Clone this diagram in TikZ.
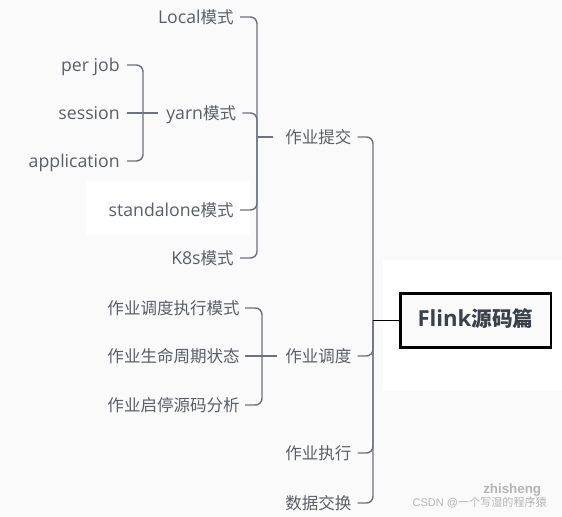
\documentclass[tikz,border=0pt]{standalone}
\usepackage{fontspec}
\setmainfont{Open Sans}[Scale=1.07]
\newfontfamily\cjk{Noto Sans CJK SC}
\newfontfamily\cjkb{Noto Sans CJK SC Bold}
\newfontfamily\wmlat{Liberation Sans}
\usetikzlibrary{calc}
\definecolor{txt}{HTML}{5A5F67}
\definecolor{ln}{HTML}{6E737C}
\definecolor{bg}{HTML}{FAFAFA}
\definecolor{rootc}{HTML}{3B424C}
\definecolor{wm}{HTML}{B4B4B4}
\tikzset{
  lbl/.style={inner sep=0pt, text=txt, font=\fontsize{12.4}{14}\selectfont, text height=0.92em, text depth=0em},
  conn/.style={draw=ln, line width=1.1pt, rounded corners=5pt},
  rootbox/.style={draw=black, line width=2pt, fill=bg, minimum width=113pt, minimum height=40.5pt, inner sep=0pt, text=rootc, font=\fontsize{15.5}{18}\selectfont\bfseries, text height=0.86em, text depth=0em}
}
\begin{document}
\begin{tikzpicture}[x=0.75pt, y=-0.75pt]
\useasboundingbox (0,0) rectangle (562,517);
\fill[bg] (0,0) rectangle (562,517);
\fill[white] (86,181) rectangle (250,235);
\fill[white] (383,260) rectangle (562,391);

% level 2 under yarn
\node[lbl, anchor=east] (perjob) at (120,65) {per job};
\node[lbl, anchor=east] (session) at (120,113) {session};
\node[lbl, anchor=east] (appl) at (120,161) {application};

% level 1 under submit
\node[lbl, anchor=east] (local) at (234,17) {Local{\cjk 模式}};
\node[lbl, anchor=west] (yarn) at (166,113) {yarn{\cjk 模式}};
\node[lbl, anchor=east] (standalone) at (234,210) {standalone{\cjk 模式}};
\node[lbl, anchor=east] (k8s) at (234,258) {K8s{\cjk 模式}};

% level 1 under scheduling
\node[lbl, anchor=east] (s1) at (240,308) {\cjk 作业调度执行模式};
\node[lbl, anchor=east] (s2) at (240,356) {\cjk 作业生命周期状态};
\node[lbl, anchor=east] (s3) at (240,405) {\cjk 作业启停源码分析};

% main branches
\node[lbl, anchor=west] (submit) at (285,137) {\cjk 作业提交};
\node[lbl, anchor=west] (sched) at (285,356) {\cjk 作业调度};
\node[lbl, anchor=west] (exec) at (285,453) {\cjk 作业执行};
\node[lbl, anchor=west] (xchg) at (285,503) {\cjk 数据交换};

% root
\node[rootbox] (root) at (475.5,320.5) {Flink{\cjkb 源码篇}};

% junctions
\coordinate (jy) at (143,113);
\coordinate (js) at (257,137);
\coordinate (jd) at (262,356);
\coordinate (jr) at (373,320.5);

% yarn group
\draw[conn] ($(perjob.east)+(7,0)$) -| (jy);
\draw[conn] ($(appl.east)+(7,0)$) -| (jy);
\draw[conn] ($(session.east)+(7,0)$) -- ($(yarn.west)+(-8,0)$);

% submit group
\draw[conn] ($(local.east)+(6,0)$) -| (js);
\draw[conn] ($(yarn.east)+(6,0)$) -| (js);
\draw[conn] ($(standalone.east)+(6,0)$) -| (js);
\draw[conn] ($(k8s.east)+(6,0)$) -| (js);
\draw[conn] (js) -- ($(submit.west)+(-12,0)$);

% scheduling group
\draw[conn] ($(s1.east)+(5,0)$) -| (jd);
\draw[conn] ($(s3.east)+(5,0)$) -| (jd);
\draw[conn] ($(s2.east)+(5,0)$) -- ($(sched.west)+(-8,0)$);

% root group
\draw[conn] ($(submit.east)+(6,0)$) -| (jr);
\draw[conn] ($(sched.east)+(6,0)$) -| (jr);
\draw[conn] ($(exec.east)+(6,0)$) -| (jr);
\draw[conn] ($(xchg.east)+(6,0)$) -| (jr);
\draw[draw=black, line width=1pt] (jr) -- (root.west);

% watermark
\node[inner sep=0pt, anchor=west, text=wm, font=\wmlat\fontsize{10}{12}\selectfont\bfseries] (wm1) at (483,490) {zhisheng};
\node[inner sep=0pt, anchor=east, text=wm, font=\wmlat\fontsize{8.3}{10}\selectfont] (wm2) at (547,503) {CSDN @{\cjk 一个写湿的程序猿}};
\end{tikzpicture}
\end{document}
